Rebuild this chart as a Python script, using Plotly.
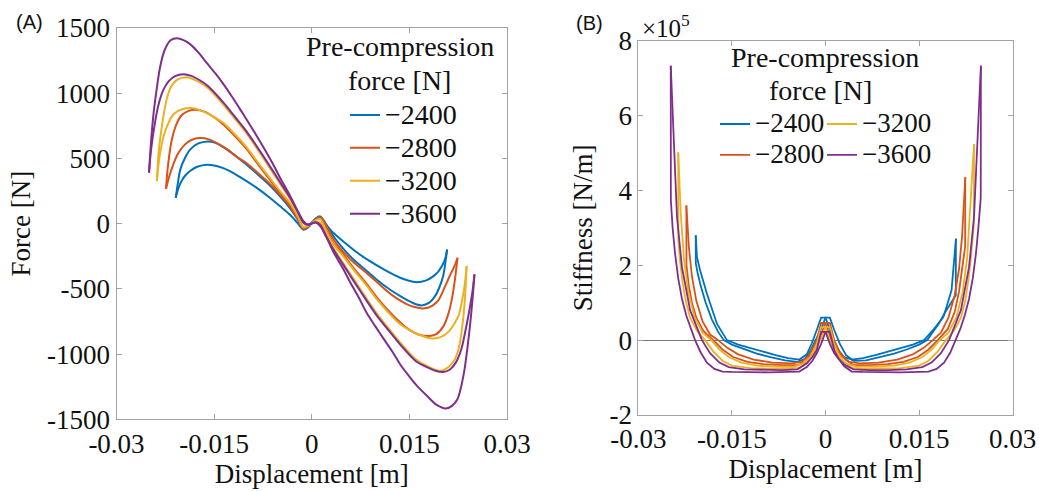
import plotly.graph_objects as go

# ---------------- Panel A: force vs displacement (two branches per pre-compression) ----------------
disp_a_2400_1 = [-0.0209,-0.0206,-0.0202,-0.0195,-0.0187,-0.0175,-0.0160,-0.0148,-0.0136,-0.0120,-0.0100,-0.0085,-0.0065,-0.0048,-0.0033,-0.0022,-0.0013,-0.0006,0.0,0.0006,0.0013,0.0022,0.0033,0.0048,0.0065,0.0085,0.0100,0.0120,0.0136,0.0148,0.0160,0.0170,0.0180,0.0189,0.0196,0.0202,0.0205,0.0208]
force_2400_1 = [197,300,413,500,566,612,629,618,585,530,450,385,295,205,115,35,-45,-30,5,38,55,-5,-95,-190,-280,-365,-430,-505,-556,-590,-618,-627,-608,-560,-490,-400,-310,-199]
disp_a_2400_2 = [-0.0209,-0.0205,-0.0200,-0.0194,-0.0187,-0.0176,-0.0161,-0.0148,-0.0136,-0.0125,-0.0110,-0.0085,-0.0065,-0.0048,-0.0033,-0.0022,-0.0013,-0.0006,0.0,0.0006,0.0013,0.0022,0.0033,0.0048,0.0065,0.0085,0.0110,0.0125,0.0136,0.0148,0.0161,0.0176,0.0187,0.0194,0.0200,0.0205,0.0208]
force_2400_2 = [197,270,326,370,403,435,451,443,425,400,355,275,200,130,65,5,-45,-30,5,35,50,-8,-71,-135,-205,-275,-350,-390,-415,-437,-449,-435,-403,-370,-326,-270,-199]

disp_a_2800_1 = [-0.0224,-0.0221,-0.0215,-0.0208,-0.0200,-0.0190,-0.0179,-0.0165,-0.0150,-0.0136,-0.0120,-0.0100,-0.0085,-0.0065,-0.0048,-0.0033,-0.0022,-0.0013,-0.0006,0.0,0.0006,0.0013,0.0022,0.0033,0.0048,0.0065,0.0085,0.0100,0.0120,0.0136,0.0150,0.0165,0.0181,0.0192,0.0202,0.0210,0.0216,0.0220,0.0224]
force_2800_1 = [265,440,642,760,830,862,872,858,815,759,680,570,470,340,230,140,55,-30,-20,5,28,40,-45,-148,-235,-345,-466,-565,-680,-759,-815,-852,-861,-845,-790,-690,-560,-430,-262]
disp_a_2800_2 = [-0.0224,-0.0219,-0.0213,-0.0205,-0.0195,-0.0185,-0.0172,-0.0158,-0.0145,-0.0130,-0.0115,-0.0100,-0.0085,-0.0065,-0.0048,-0.0033,-0.0022,-0.0013,-0.0006,0.0,0.0006,0.0013,0.0022,0.0033,0.0048,0.0065,0.0085,0.0100,0.0115,0.0130,0.0145,0.0158,0.0171,0.0185,0.0195,0.0205,0.0213,0.0219,0.0224]
force_2800_2 = [265,360,450,540,605,640,655,645,615,570,510,462,398,308,218,128,40,-40,-25,3,32,48,-15,-118,-215,-300,-382,-447,-515,-572,-615,-640,-650,-630,-585,-480,-390,-330,-262]

disp_a_3200_1 = [-0.0238,-0.0235,-0.0231,-0.0228,-0.0223,-0.0217,-0.0207,-0.0192,-0.0177,-0.0160,-0.0136,-0.0120,-0.0100,-0.0085,-0.0065,-0.0048,-0.0033,-0.0022,-0.0013,-0.0006,0.0,0.0006,0.0013,0.0022,0.0033,0.0048,0.0065,0.0085,0.0100,0.0120,0.0136,0.0160,0.0177,0.0197,0.0210,0.0220,0.0227,0.0232,0.0235,0.0238]
force_3200_1 = [325,560,720,820,950,1040,1101,1121,1095,1040,912,815,690,581,430,300,186,90,5,-10,0,12,5,-85,-186,-300,-430,-581,-690,-815,-912,-1040,-1091,-1129,-1100,-1040,-930,-760,-600,-326]
disp_a_3200_2 = [-0.0238,-0.0235,-0.0230,-0.0222,-0.0212,-0.0198,-0.0182,-0.0168,-0.0152,-0.0136,-0.0120,-0.0100,-0.0085,-0.0065,-0.0048,-0.0033,-0.0022,-0.0013,-0.0006,0.0,0.0006,0.0013,0.0022,0.0033,0.0048,0.0065,0.0085,0.0100,0.0120,0.0136,0.0152,0.0168,0.0184,0.0198,0.0210,0.0220,0.0226,0.0231,0.0235,0.0238]
force_3200_2 = [325,470,620,750,840,878,884,862,822,772,694,584,484,353,244,155,60,-28,-18,3,25,35,-55,-158,-248,-358,-480,-580,-694,-772,-822,-858,-881,-870,-830,-760,-700,-590,-470,-326]

disp_a_3600_1 = [-0.0250,-0.0247,-0.0243,-0.0238,-0.0233,-0.0226,-0.0217,-0.0207,-0.0197,-0.0187,-0.0174,-0.0161,-0.0148,-0.0136,-0.0123,-0.0110,-0.0098,-0.0085,-0.0072,-0.0059,-0.0048,-0.0033,-0.0022,-0.0013,-0.0006,0.0,0.0006,0.0013,0.0022,0.0033,0.0048,0.0059,0.0072,0.0085,0.0098,0.0110,0.0123,0.0136,0.0148,0.0161,0.0177,0.0192,0.0206,0.0216,0.0224,0.0230,0.0235,0.0239,0.0243,0.0247,0.0250]
force_3600_1 = [390,620,846,1040,1200,1330,1405,1420,1405,1375,1310,1229,1150,1070,975,875,780,675,565,450,345,210,100,20,-8,0,8,-20,-100,-215,-345,-450,-565,-690,-790,-880,-975,-1080,-1160,-1240,-1320,-1390,-1417,-1395,-1345,-1240,-1110,-960,-790,-580,-390]
disp_a_3600_2 = [-0.0250,-0.0247,-0.0241,-0.0235,-0.0228,-0.0220,-0.0210,-0.0197,-0.0185,-0.0172,-0.0160,-0.0136,-0.0120,-0.0100,-0.0085,-0.0065,-0.0048,-0.0033,-0.0022,-0.0013,-0.0006,0.0,0.0006,0.0013,0.0022,0.0033,0.0048,0.0065,0.0085,0.0100,0.0120,0.0136,0.0160,0.0177,0.0190,0.0202,0.0212,0.0222,0.0230,0.0237,0.0243,0.0247,0.0250]
force_3600_2 = [390,560,770,920,1024,1090,1130,1144,1132,1098,1055,928,830,705,596,445,313,196,95,8,-10,0,10,-8,-95,-196,-313,-445,-596,-705,-830,-928,-1055,-1100,-1128,-1137,-1120,-1060,-960,-800,-640,-520,-390]

# ---------------- Panel B: stiffness (units of 1e5 N/m) ----------------
disp_b_2400_1 = [-0.0208,-0.02078,-0.0205,-0.0200,-0.0192,-0.0182,-0.0172,-0.0163,-0.0150,-0.0130,-0.0110,-0.0090,-0.0065,-0.0045,-0.0033,-0.0023,-0.0014,-0.0007,0.0,0.0007,0.0014,0.0023,0.0033,0.0045,0.0065,0.0090,0.0110,0.0130,0.0150,0.0163,0.0172,0.0182,0.0192,0.0200,0.0206,0.02088,0.0209]
stiff_2400_1 = [2.8,2.05,1.8,1.45,1.0,0.55,0.22,0.0,-0.12,-0.25,-0.36,-0.45,-0.54,-0.58,-0.5,-0.25,0.05,0.3,0.6,0.6,0.27,-0.1,-0.4,-0.55,-0.54,-0.45,-0.36,-0.25,-0.12,0.0,0.2,0.45,0.75,0.95,1.1,1.2,2.71]
disp_b_2400_2 = [-0.0208,-0.0206,-0.0201,-0.0190,-0.0174,-0.0158,-0.0140,-0.0120,-0.0100,-0.0080,-0.0060,-0.0042,-0.0030,-0.0022,-0.0014,-0.0007,0.0,0.0007,0.0014,0.0022,0.0030,0.0042,0.0060,0.0080,0.0100,0.0120,0.0140,0.0158,0.0174,0.0189,0.0202,0.0209]
stiff_2400_2 = [2.8,2.22,1.87,1.24,0.44,0.0,-0.12,-0.22,-0.31,-0.4,-0.48,-0.52,-0.38,-0.09,0.27,0.6,0.6,0.25,-0.05,-0.3,-0.45,-0.52,-0.48,-0.4,-0.31,-0.22,-0.12,0.0,0.3,0.62,1.33,2.71]

disp_b_2800_1 = [-0.0223,-0.02228,-0.0219,-0.0214,-0.0207,-0.0196,-0.0180,-0.0165,-0.0148,-0.0125,-0.0100,-0.0070,-0.0045,-0.0032,-0.0022,-0.0014,-0.0007,0.0,0.0007,0.0014,0.0022,0.0032,0.0045,0.0070,0.0100,0.0125,0.0148,0.0165,0.0180,0.0196,0.0207,0.0214,0.0219,0.02238,0.0224]
stiff_2800_1 = [3.6,2.0,1.45,1.0,0.6,0.25,0.0,-0.25,-0.45,-0.58,-0.64,-0.67,-0.67,-0.58,-0.38,-0.12,0.15,0.46,0.46,0.0,-0.3,-0.52,-0.67,-0.67,-0.64,-0.58,-0.45,-0.25,0.0,0.3,0.75,1.3,1.9,2.5,4.35]
disp_b_2800_2 = [-0.0223,-0.0219,-0.0214,-0.0207,-0.0197,-0.0185,-0.0172,-0.0158,-0.0140,-0.0115,-0.0085,-0.0055,-0.0038,-0.0026,-0.0014,-0.0007,0.0,0.0007,0.0014,0.0026,0.0038,0.0055,0.0085,0.0115,0.0140,0.0158,0.0172,0.0185,0.0197,0.0207,0.0214,0.0219,0.0224]
stiff_2800_2 = [3.6,2.5,1.7,1.05,0.5,0.15,0.0,-0.2,-0.38,-0.52,-0.6,-0.62,-0.58,-0.4,0.0,0.46,0.46,0.1,-0.15,-0.42,-0.58,-0.62,-0.6,-0.52,-0.38,-0.2,0.0,0.2,0.6,1.2,1.9,2.8,4.35]

disp_b_3200_1 = [-0.0236,-0.02358,-0.0233,-0.0229,-0.0224,-0.0217,-0.0206,-0.0193,-0.0180,-0.0165,-0.0150,-0.0120,-0.0090,-0.0060,-0.0042,-0.0030,-0.0021,-0.0014,-0.0007,0.0,0.0007,0.0014,0.0021,0.0030,0.0042,0.0060,0.0090,0.0120,0.0150,0.0165,0.0180,0.0193,0.0206,0.0217,0.0224,0.0229,0.0233,0.02378,0.0238]
stiff_3200_1 = [5.02,2.67,2.1,1.55,1.05,0.6,0.25,0.0,-0.3,-0.55,-0.68,-0.75,-0.76,-0.76,-0.74,-0.62,-0.42,-0.2,0.05,0.35,0.35,-0.1,-0.38,-0.6,-0.74,-0.76,-0.76,-0.75,-0.68,-0.55,-0.3,0.0,0.25,0.6,1.05,1.6,2.2,3.1,5.24]
disp_b_3200_2 = [-0.0236,-0.0232,-0.0227,-0.0220,-0.0210,-0.0197,-0.0183,-0.0170,-0.0155,-0.0135,-0.0110,-0.0080,-0.0050,-0.0035,-0.0024,-0.0014,-0.0007,0.0,0.0007,0.0014,0.0024,0.0035,0.0050,0.0080,0.0110,0.0135,0.0155,0.0170,0.0183,0.0197,0.0210,0.0220,0.0227,0.0232,0.0238]
stiff_3200_2 = [5.02,3.4,2.2,1.3,0.62,0.2,0.0,-0.25,-0.45,-0.6,-0.68,-0.71,-0.71,-0.62,-0.45,-0.1,0.35,0.35,0.0,-0.25,-0.5,-0.64,-0.71,-0.71,-0.68,-0.6,-0.45,-0.25,0.0,0.2,0.62,1.3,2.2,3.5,5.24]

disp_b_3600_1 = [-0.0248,-0.02478,-0.0245,-0.0241,-0.0236,-0.0230,-0.0223,-0.0216,-0.0209,-0.0200,-0.0190,-0.0178,-0.0165,-0.0150,-0.0120,-0.0090,-0.0060,-0.0042,-0.0030,-0.0021,-0.0014,-0.0007,0.0,0.0007,0.0014,0.0021,0.0030,0.0042,0.0060,0.0090,0.0120,0.0150,0.0165,0.0178,0.0190,0.0200,0.0209,0.0216,0.0223,0.0230,0.0236,0.0241,0.0245,0.02488,0.0249]
stiff_3600_1 = [7.33,3.73,3.0,2.3,1.65,1.1,0.65,0.3,0.0,-0.33,-0.6,-0.77,-0.84,-0.85,-0.86,-0.86,-0.85,-0.84,-0.72,-0.55,-0.35,-0.1,0.22,0.22,-0.27,-0.5,-0.7,-0.84,-0.85,-0.86,-0.86,-0.85,-0.84,-0.77,-0.6,-0.33,0.0,0.3,0.65,1.1,1.65,2.3,3.0,3.8,7.33]
disp_b_3600_2 = [-0.0248,-0.0243,-0.0238,-0.0230,-0.0217,-0.0198,-0.0185,-0.0170,-0.0155,-0.0130,-0.0100,-0.0070,-0.0045,-0.0030,-0.0021,-0.0014,-0.0007,0.0,0.0007,0.0014,0.0021,0.0030,0.0045,0.0070,0.0100,0.0130,0.0155,0.0170,0.0185,0.0198,0.0217,0.0230,0.0238,0.0243,0.0249]
stiff_3600_2 = [7.33,5.07,3.29,1.95,0.8,0.0,-0.35,-0.6,-0.72,-0.78,-0.8,-0.8,-0.78,-0.62,-0.45,-0.27,0.22,0.22,-0.1,-0.35,-0.5,-0.65,-0.78,-0.8,-0.8,-0.78,-0.72,-0.6,-0.35,0.0,0.8,1.95,3.29,5.07,7.33]

precompression_labels = ["\u22122400", "\u22122800", "\u22123200", "\u22123600"]
line_colors = ["#0072BD", "#D95319", "#EDB120", "#7E2F8E"]

x_tick_vals = [-0.03, -0.015, 0, 0.015, 0.03]
x_tick_text = ["-0.03", "-0.015", "0", "0.015", "0.03"]
force_tick_vals = [-1500, -1000, -500, 0, 500, 1000, 1500]
force_tick_text = ["-1500", "-1000", "-500", "0", "500", "1000", "1500"]
stiff_tick_vals = [-2, 0, 2, 4, 6, 8]
stiff_tick_text = ["-2", "0", "2", "4", "6", "8"]

panel_a = [
    (disp_a_2400_1, force_2400_1, disp_a_2400_2, force_2400_2),
    (disp_a_2800_1, force_2800_1, disp_a_2800_2, force_2800_2),
    (disp_a_3200_1, force_3200_1, disp_a_3200_2, force_3200_2),
    (disp_a_3600_1, force_3600_1, disp_a_3600_2, force_3600_2),
]
panel_b = [
    (disp_b_2400_1, stiff_2400_1, disp_b_2400_2, stiff_2400_2),
    (disp_b_2800_1, stiff_2800_1, disp_b_2800_2, stiff_2800_2),
    (disp_b_3200_1, stiff_3200_1, disp_b_3200_2, stiff_3200_2),
    (disp_b_3600_1, stiff_3600_1, disp_b_3600_2, stiff_3600_2),
]

W, H = 1039, 491
SERIF = "Liberation Serif"
SANS = "Liberation Sans"
AXC = "#a3a3a3"
TXT = "#111111"

fig = go.Figure()
for i, (xa, ya, xb, yb) in enumerate(panel_a):
    name = '<span style="font-size:28px">%s</span>' % precompression_labels[i]
    for j, (xx, yy) in enumerate([(xa, ya), (xb, yb)]):
        fig.add_trace(go.Scatter(
            x=xx, y=yy, mode="lines", xaxis="x", yaxis="y",
            line=dict(color=line_colors[i], width=2, shape="spline", smoothing=0.8),
            name=name, legend="legend", showlegend=(j == 0), hoverinfo="skip"))

b_legend = ["legend2", "legend2", "legend3", "legend3"]
for i, (xa, ya, xb, yb) in enumerate(panel_b):
    name = '<span style="font-size:27px">%s</span>' % precompression_labels[i]
    for j, (xx, yy) in enumerate([(xa, ya), (xb, yb)]):
        fig.add_trace(go.Scatter(
            x=xx, y=yy, mode="lines", xaxis="x2", yaxis="y2",
            line=dict(color=line_colors[i], width=1.8),
            name=name, legend=b_legend[i], showlegend=(j == 0), hoverinfo="skip"))


def px_x(p):
    return p / W


def px_y(p):
    return 1 - p / H


def axis_style():
    return dict(showline=True, linecolor=AXC, linewidth=1, mirror="ticks",
                ticks="inside", ticklen=5, tickcolor=AXC, showgrid=False,
                automargin=False,
                tickfont=dict(family=SERIF, size=27, color=TXT))


fig.update_layout(
    template="none",
    width=W, height=H, margin=dict(l=0, r=0, t=0, b=0, pad=0),
    paper_bgcolor="white", plot_bgcolor="white",
    font=dict(family=SERIF, color=TXT),
    xaxis=dict(domain=[px_x(116.5), px_x(507)], range=[-0.03, 0.03], anchor="y",
               tickvals=x_tick_vals, ticktext=x_tick_text, zeroline=False,
               title=dict(text="Displacement [m]", font=dict(family=SERIF, size=27, color=TXT), standoff=0),
               **axis_style()),
    yaxis=dict(domain=[px_y(419.3), px_y(27.8)], range=[-1500, 1500], anchor="x",
               tickvals=force_tick_vals, ticktext=force_tick_text, zeroline=False,
               title=dict(text="Force [N]", font=dict(family=SERIF, size=27, color=TXT), standoff=8),
               **axis_style()),
    xaxis2=dict(domain=[px_x(638.3), px_x(1012.7)], range=[-0.03, 0.03], anchor="y2",
                tickvals=x_tick_vals, ticktext=x_tick_text, zeroline=False,
                title=dict(text="Displacement [m]", font=dict(family=SERIF, size=27, color=TXT), standoff=4),
                **axis_style()),
    yaxis2=dict(domain=[px_y(415), px_y(40.7)], range=[-2, 8], anchor="x2",
                tickvals=stiff_tick_vals, ticktext=stiff_tick_text,
                zeroline=True, zerolinecolor="#7a7a7a", zerolinewidth=1,
                title=dict(text="Stiffness [N/m]", font=dict(family=SERIF, size=27, color=TXT), standoff=8),
                **axis_style()),
    legend=dict(x=px_x(345), y=px_y(93.5), xanchor="left", yanchor="top",
                bgcolor="rgba(0,0,0,0)", borderwidth=0,
                font=dict(family=SERIF, size=23, color=TXT),
                itemwidth=30, tracegroupgap=0),
    legend2=dict(x=px_x(715), y=px_y(103.5), xanchor="left", yanchor="top",
                 bgcolor="rgba(0,0,0,0)", borderwidth=0,
                 font=dict(family=SERIF, size=21.5, color=TXT),
                 itemwidth=30, tracegroupgap=0),
    legend3=dict(x=px_x(822), y=px_y(103.5), xanchor="left", yanchor="top",
                 bgcolor="rgba(0,0,0,0)", borderwidth=0,
                 font=dict(family=SERIF, size=21.5, color=TXT),
                 itemwidth=30, tracegroupgap=0),
    showlegend=True,
)

annos = [
    ("Pre-compression", 400, 47, SERIF, 28, "center"),
    ("force [N]", 399, 80, SERIF, 28, "center"),
    ("Pre-compression", 825, 58, SERIF, 28, "center"),
    ("force [N]", 820, 90, SERIF, 28, "center"),
    ("(A)", 29, 22, SANS, 20, "center"),
    ("(B)", 589, 23, SANS, 20, "center"),
    ("\u00d710<sup>5</sup>", 640, 26, SERIF, 25, "left"),
]
for text, ax_, ay_, fam, size, anchor in annos:
    fig.add_annotation(text=text, x=px_x(ax_), y=px_y(ay_), xref="paper", yref="paper",
                       xanchor=anchor, yanchor="middle", showarrow=False,
                       font=dict(family=fam, size=size, color=TXT))

fig.write_html("out.html")
